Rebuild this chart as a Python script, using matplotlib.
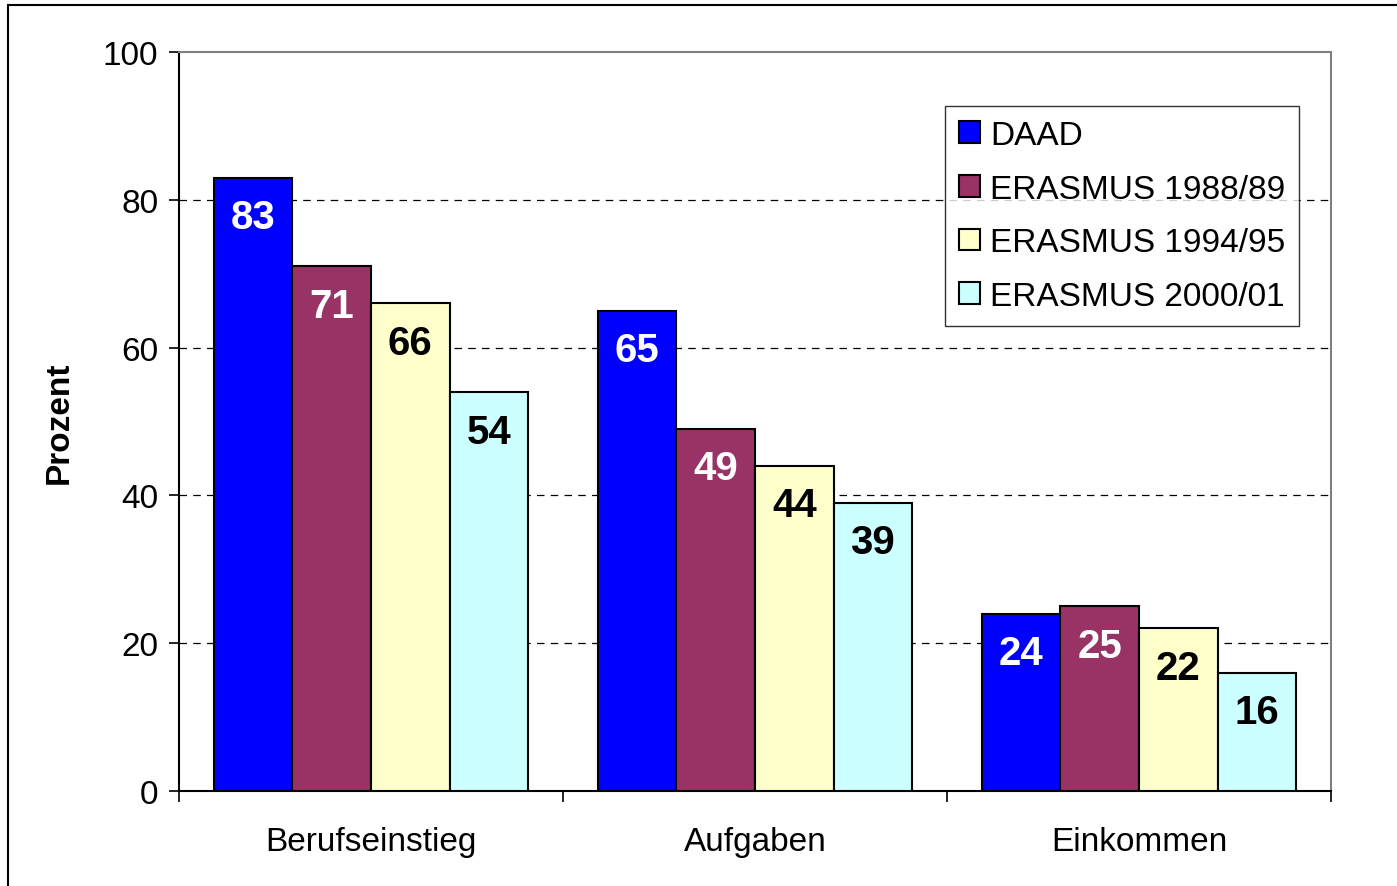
import numpy as np
import matplotlib
matplotlib.use("Agg")
import matplotlib.pyplot as plt
from matplotlib.patches import Rectangle

plt.rcParams['font.family'] = ['Liberation Sans', 'DejaVu Sans']

# Data
categories = ["Berufseinstieg", "Aufgaben", "Einkommen"]
series_names = ["DAAD", "ERASMUS 1988/89", "ERASMUS 1994/95", "ERASMUS 2000/01"]
daad = [83, 65, 24]
erasmus_8889 = [71, 49, 25]
erasmus_9495 = [66, 44, 22]
erasmus_0001 = [54, 39, 16]
series_values = [daad, erasmus_8889, erasmus_9495, erasmus_0001]

bar_colors = ["#0000FF", "#993366", "#FFFFCC", "#CCFFFF"]
label_colors = ["white", "white", "black", "black"]

fig = plt.figure(figsize=(13.97, 8.87), dpi=100)
ax = fig.add_axes([179 / 1397, 1 - 792 / 887, (1331 - 179) / 1397, (792 - 53) / 887])

x = np.arange(len(categories))
width = 0.2045

for i, (name, vals) in enumerate(zip(series_names, series_values)):
    pos = x + (i - 1.5) * width
    bars = ax.bar(pos, vals, width, color=bar_colors[i], edgecolor="black",
                  linewidth=1.5, label=name, zorder=3)
    for b, v in zip(bars, vals):
        ax.annotate(str(v), (b.get_x() + b.get_width() / 2, v),
                    xytext=(0, -28.5), textcoords="offset points",
                    ha="center", va="center", fontsize=29, fontweight="bold",
                    color=label_colors[i], zorder=4)

# y axis
ax.set_ylim(0, 100)
ax.set_yticks([0, 20, 40, 60, 80, 100])
ax.tick_params(axis="y", direction="out", length=7, width=1.2, labelsize=24, pad=8)
ax.set_ylabel("Prozent", fontsize=24, fontweight="bold", labelpad=20)

# x axis: category labels centered, ticks at boundaries
ax.set_xlim(-0.5, 2.5)
ax.set_xticks(x)
ax.set_xticklabels(categories, fontsize=24)
ax.tick_params(axis="x", length=0, pad=25)
ax.set_xticks([-0.5, 0.5, 1.5, 2.5], minor=True)
ax.tick_params(axis="x", which="minor", direction="out", length=8, width=1.2)

# grid
for yv in [20, 40, 60, 80]:
    ax.axhline(yv, color="black", linestyle=(0, (6, 5)), linewidth=0.9, zorder=1)

for side in ["top", "right"]:
    ax.spines[side].set_color("#808080")
    ax.spines[side].set_linewidth(1.5)
for side in ["left", "bottom"]:
    ax.spines[side].set_color("black")
    ax.spines[side].set_linewidth(1.5)

leg = ax.legend(loc="upper right", bbox_to_anchor=(1120 / 1152, 1 - 54 / 739),
                fontsize=24, frameon=True, fancybox=False, edgecolor="black",
                handlelength=0.62, handleheight=0.62, handletextpad=0.3,
                labelspacing=0.68, borderpad=0.42, borderaxespad=0)
leg.get_frame().set_linewidth(1.0)
leg.set_zorder(5)

# figure border
fig.patches.append(Rectangle((8 / 1397, -0.01), 1.02, 1 - 6 / 887 + 0.01,
                             transform=fig.transFigure, fill=False,
                             edgecolor="black", linewidth=1.5))

fig.savefig("out.png", dpi=100)
